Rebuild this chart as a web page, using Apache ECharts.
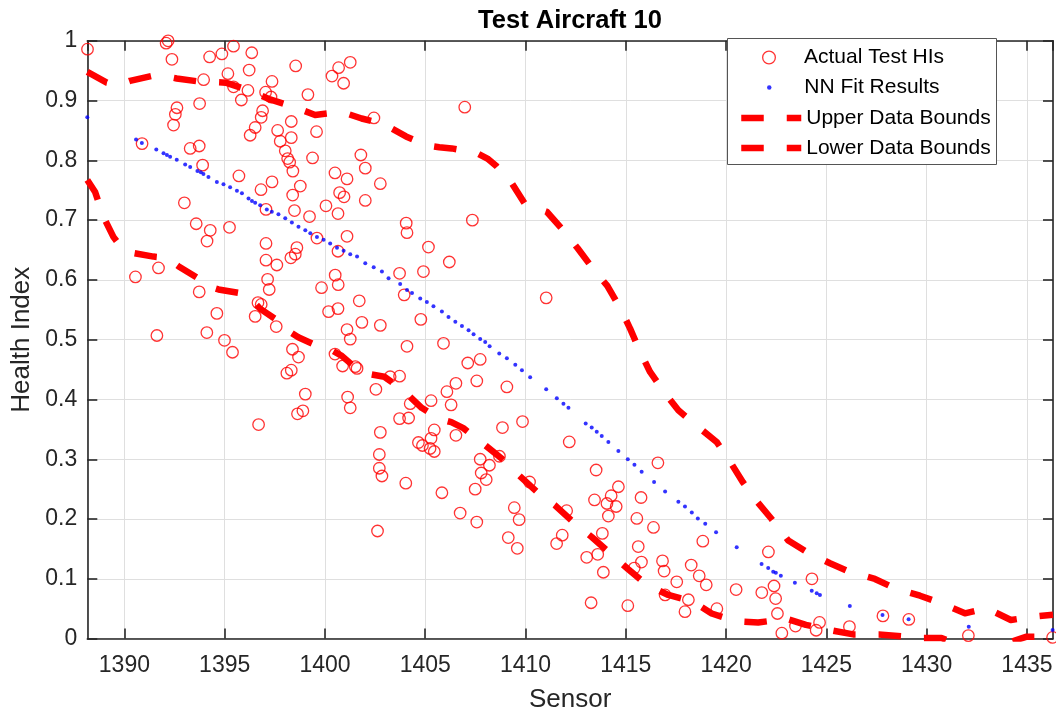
<!DOCTYPE html>
<html><head><meta charset="utf-8">
<script src="https://cdn.jsdelivr.net/npm/echarts@6/dist/echarts.min.js"></script>
<style>html,body{margin:0;padding:0;background:#fff}#chart{width:1056px;height:713px}</style>
</head><body><div id="chart"></div>
<script>
// ---- data: [sensor, health index] ----
const actualTestHIs = [
[1388.16,0.986],[1392.08,0.996],[1392.18,1.000],[1392.37,0.969],[1394.25,0.973],[1394.86,0.978],[1395.44,0.991],[1396.35,0.980],
[1398.54,0.958],[1395.16,0.945],[1396.22,0.951],[1393.95,0.935],[1395.44,0.923],[1396.16,0.917],[1395.83,0.901],[1397.36,0.932],
[1397.04,0.914],[1397.31,0.906],[1399.15,0.910],[1400.68,0.955],[1400.35,0.941],[1401.26,0.964],[1400.93,0.929],[1393.75,0.895],
[1392.62,0.888],[1392.54,0.877],[1392.45,0.859],[1396.89,0.883],[1396.82,0.872],[1396.52,0.855],[1396.27,0.842],[1397.64,0.850],
[1397.77,0.832],[1398.32,0.865],[1398.32,0.838],[1399.58,0.848],[1402.44,0.871],[1390.88,0.828],[1393.28,0.820],[1393.73,0.824],
[1398.02,0.816],[1398.14,0.803],[1398.24,0.797],[1398.40,0.782],[1399.38,0.804],[1393.90,0.792],[1401.79,0.809],[1402.01,0.787],
[1402.76,0.761],[1400.50,0.779],[1401.10,0.769],[1395.71,0.774],[1397.36,0.764],[1396.81,0.751],[1398.77,0.757],[1398.39,0.742],
[1400.73,0.746],[1400.95,0.739],[1402.01,0.733],[1392.99,0.729],[1397.06,0.718],[1398.48,0.716],[1400.05,0.724],[1400.65,0.711],
[1399.23,0.706],[1404.05,0.695],[1404.09,0.679],[1393.58,0.694],[1394.28,0.683],[1394.12,0.665],[1395.24,0.688],[1397.06,0.661],
[1399.60,0.670],[1401.10,0.673],[1400.65,0.648],[1398.60,0.654],[1398.52,0.643],[1398.30,0.637],[1397.06,0.633],[1397.60,0.625],
[1391.70,0.620],[1390.55,0.605],[1397.14,0.601],[1400.51,0.608],[1403.72,0.611],[1407.35,0.700],[1406.97,0.889],[1405.16,0.655],
[1406.20,0.630],[1404.91,0.614],[1393.73,0.580],[1394.61,0.544],[1394.11,0.512],[1394.99,0.499],[1395.39,0.479],[1391.62,0.507],
[1397.22,0.584],[1396.66,0.562],[1396.82,0.559],[1396.52,0.539],[1397.57,0.522],[1399.83,0.587],[1400.66,0.592],[1400.18,0.547],
[1400.65,0.552],[1401.71,0.565],[1401.84,0.529],[1402.76,0.524],[1401.10,0.517],[1401.26,0.501],[1403.95,0.575],[1404.09,0.489],
[1398.38,0.484],[1398.68,0.471],[1398.10,0.444],[1398.32,0.449],[1399.02,0.409],[1398.63,0.376],[1398.90,0.381],[1396.69,0.358],
[1400.50,0.476],[1400.88,0.456],[1401.51,0.455],[1401.60,0.452],[1403.25,0.438],[1403.72,0.439],[1402.54,0.417],[1401.13,0.404],
[1401.26,0.386],[1404.25,0.393],[1404.17,0.369],[1403.72,0.368],[1402.76,0.345],[1402.71,0.308],[1402.71,0.285],[1402.84,0.272],
[1404.03,0.260],[1402.62,0.180],[1411.03,0.570],[1404.78,0.534],[1405.91,0.494],[1407.12,0.461],[1407.74,0.467],[1407.57,0.431],
[1409.07,0.421],[1406.53,0.427],[1406.08,0.413],[1405.29,0.398],[1406.29,0.391],[1409.85,0.363],[1408.85,0.353],[1405.45,0.349],
[1405.29,0.335],[1404.66,0.328],[1404.86,0.323],[1405.24,0.318],[1405.45,0.313],[1406.53,0.340],[1412.18,0.329],[1407.74,0.300],
[1408.20,0.290],[1408.70,0.305],[1407.79,0.277],[1408.04,0.266],[1416.60,0.294],[1413.52,0.282],[1405.83,0.244],[1407.49,0.250],
[1410.20,0.262],[1414.63,0.254],[1414.27,0.239],[1414.06,0.226],[1414.52,0.221],[1413.44,0.232],[1415.76,0.236],[1409.44,0.219],
[1412.05,0.214],[1406.74,0.210],[1409.68,0.199],[1407.57,0.195],[1414.13,0.205],[1415.55,0.201],[1409.14,0.169],[1409.59,0.151],
[1411.83,0.173],[1411.55,0.159],[1413.83,0.176],[1413.05,0.136],[1413.60,0.141],[1413.88,0.111],[1413.27,0.060],[1415.10,0.055],
[1416.38,0.186],[1415.62,0.154],[1415.42,0.118],[1415.78,0.128],[1416.83,0.130],[1416.91,0.113],[1417.54,0.095],[1416.96,0.073],
[1418.26,0.123],[1418.66,0.105],[1419.01,0.090],[1418.12,0.065],[1417.95,0.045],[1418.84,0.163],[1419.54,0.050],[1420.50,0.082],
[1422.11,0.145],[1421.78,0.077],[1422.39,0.088],[1422.47,0.067],[1422.56,0.042],[1422.78,0.009],[1423.46,0.021],[1424.28,0.100],
[1424.66,0.027],[1424.49,0.014],[1426.15,0.020],[1427.82,0.038],[1429.11,0.032],[1432.08,0.005],[1436.28,0.002]
];

const nnFitResults = [
[1388.15,0.872],[1390.58,0.835],[1390.87,0.829],[1391.59,0.818],[1391.95,0.812],[1392.12,0.809],[1392.28,0.806],[1392.61,0.801],
[1393.03,0.793],[1393.28,0.789],[1393.64,0.782],[1393.81,0.780],[1393.94,0.777],[1394.19,0.772],[1394.61,0.764],[1394.94,0.760],
[1395.27,0.755],[1395.61,0.749],[1395.86,0.745],[1396.19,0.736],[1396.36,0.732],[1396.52,0.729],[1396.77,0.725],[1397.10,0.718],
[1397.35,0.714],[1397.68,0.710],[1398.02,0.703],[1398.35,0.696],[1398.68,0.689],[1399.02,0.683],[1399.27,0.678],[1399.60,0.672],
[1399.93,0.667],[1400.26,0.661],[1400.60,0.654],[1400.93,0.649],[1401.26,0.643],[1401.60,0.639],[1402.01,0.628],[1402.43,0.621],
[1402.84,0.614],[1403.17,0.603],[1403.75,0.593],[1404.09,0.583],[1404.34,0.578],[1404.75,0.569],[1405.08,0.563],[1405.41,0.556],
[1405.83,0.547],[1406.16,0.538],[1406.50,0.530],[1406.83,0.523],[1407.16,0.516],[1407.41,0.509],[1407.74,0.501],[1407.99,0.496],
[1408.21,0.489],[1408.69,0.477],[1409.07,0.469],[1409.49,0.458],[1409.82,0.449],[1410.23,0.437],[1411.03,0.417],[1411.56,0.402],
[1411.89,0.393],[1412.14,0.386],[1413.00,0.360],[1413.30,0.353],[1413.55,0.346],[1413.80,0.339],[1414.13,0.329],[1414.63,0.314],
[1415.10,0.300],[1415.43,0.291],[1415.79,0.279],[1416.41,0.262],[1416.96,0.246],[1417.62,0.229],[1417.95,0.221],[1418.29,0.211],
[1418.59,0.201],[1418.96,0.192],[1419.50,0.178],[1420.53,0.153],[1421.77,0.125],[1422.10,0.118],[1422.35,0.112],[1422.48,0.110],
[1422.73,0.105],[1423.43,0.0935],[1424.27,0.080],[1424.52,0.0757],[1424.68,0.0729],[1426.17,0.0545],[1427.80,0.0395],[1429.10,0.0323],
[1432.10,0.0199],[1436.28,0.0144]
];

const upperDataBounds = [
[1388.15,0.948],[1389.12,0.930],[1389.7,0.926],[1390.28,0.933],[1391.33,0.941],[1392.0,0.941],[1392.61,0.937],[1393.69,0.932],
[1395.05,0.930],[1396.05,0.919],[1397.26,0.902],[1398.31,0.891],[1399.51,0.876],[1400.54,0.880],[1401.2,0.877],[1401.83,0.870],
[1402.91,0.861],[1404.04,0.840],[1405.1,0.825],[1405.7,0.822],[1406.32,0.820],[1407.53,0.813],[1408.1,0.803],[1408.56,0.790],
[1409.31,0.762],[1409.97,0.727],[1411.06,0.714],[1411.88,0.683],[1412.6,0.653],[1413.38,0.618],[1414.08,0.590],[1414.75,0.551],
[1415.21,0.519],[1415.71,0.480],[1416.21,0.446],[1416.96,0.410],[1417.62,0.382],[1418.61,0.354],[1419.53,0.329],[1420.2,0.296],
[1420.83,0.262],[1421.55,0.229],[1422.27,0.200],[1423.1,0.164],[1424.02,0.145],[1425.18,0.126],[1426.14,0.112],[1427.42,0.0997],
[1428.42,0.0841],[1429.67,0.0717],[1430.66,0.0600],[1431.91,0.0423],[1433.0,0.0507],[1434.2,0.0311],[1435.3,0.0366],[1436.3,0.040]
];

const lowerDataBounds = [
[1388.15,0.767],[1388.54,0.747],[1388.95,0.706],[1389.45,0.672],[1389.95,0.650],[1390.45,0.645],[1391.45,0.639],[1392.1,0.637],
[1392.69,0.623],[1393.61,0.604],[1394.1,0.590],[1394.69,0.584],[1395.77,0.578],[1396.2,0.572],[1396.76,0.552],[1397.73,0.530],
[1398.2,0.514],[1398.67,0.504],[1399.72,0.488],[1400.3,0.483],[1400.84,0.473],[1401.66,0.449],[1402.3,0.442],[1402.96,0.438],
[1403.88,0.416],[1404.82,0.386],[1405.74,0.367],[1406.3,0.362],[1406.9,0.352],[1407.82,0.328],[1408.89,0.299],[1409.64,0.274],
[1410.56,0.246],[1411.47,0.223],[1412.38,0.195],[1413.3,0.170],[1414.21,0.143],[1415.12,0.116],[1416.04,0.090],[1417.12,0.073],
[1418.33,0.062],[1419.28,0.042],[1420.49,0.029],[1421.6,0.027],[1422.3,0.030],[1422.94,0.034],[1423.98,0.023],[1425.23,0.014],
[1426.34,0.007],[1427.62,0.007],[1428.75,0.004],[1429.63,0.001],[1430.74,0.001],[1431.6,-0.010],[1432.8,-0.016],[1434.0,-0.008],
[1434.95,0.003],[1435.81,0.003],[1436.3,0.002]
];

const seriesNames = ['Actual Test HIs', 'NN Fit Results', 'Upper Data Bounds', 'Lower Data Bounds'];
const chartTitle = 'Test Aircraft 10';
const xName = 'Sensor';
const yName = 'Health Index';
const xRange = [1388.15, 1436.3];
const yRange = [0, 1];

// ---- presentation ----
const FONT = "'Liberation Sans', Arial, Helvetica, sans-serif";
const AX = '#262626';
const GRID = '#dfdfdf';
const RED = '#ff0000';
const BLUE = '#0000ff';
const DASH = [22.5, 23];
const BOUND_W = 6.5;

const chart = echarts.init(document.getElementById('chart'), null, {renderer: 'canvas'});

const lineAxis = {show: true, onZero: false, lineStyle: {color: AX, width: 1.6}};
const tickIn = {show: true, inside: true, length: 10, lineStyle: {color: AX, width: 1.6}};

const xBase = {type: 'value', min: xRange[0], max: xRange[1], minInterval: 5, maxInterval: 5, splitNumber: 10};
const yBase = {type: 'value', min: yRange[0], max: yRange[1], interval: 0.1};

chart.setOption({
  animation: false,
  backgroundColor: '#ffffff',
  title: {
    text: chartTitle, left: 570, top: 8, textAlign: 'center', padding: 0,
    textStyle: {fontFamily: FONT, fontSize: 25.5, fontWeight: 'bold', color: '#000'}
  },
  grid: {left: 87.3, right: 3, top: 40.8, bottom: 74.4, containLabel: false, outerBoundsMode: 'none'},
  xAxis: [
    Object.assign({}, xBase, {
      position: 'bottom',
      axisLine: lineAxis, axisTick: tickIn,
      axisLabel: {show: true, margin: 16, fontSize: 23, color: AX, fontFamily: FONT, showMinLabel: false, showMaxLabel: false,
                  formatter: function (v) { return String(Math.round(v)); }},
      splitLine: {show: true, lineStyle: {color: GRID, width: 1}},
      name: xName, nameLocation: 'middle', nameGap: 48,
      nameTextStyle: {fontSize: 26, color: AX, fontFamily: FONT}
    }),
    Object.assign({}, xBase, {
      position: 'top',
      axisLine: lineAxis, axisTick: tickIn,
      axisLabel: {show: false}, splitLine: {show: false}
    })
  ],
  yAxis: [
    Object.assign({}, yBase, {
      position: 'left',
      axisLine: lineAxis, axisTick: tickIn,
      axisLabel: {show: true, margin: 10, fontSize: 23, color: AX, fontFamily: FONT},
      splitLine: {show: true, lineStyle: {color: GRID, width: 1}},
      name: yName, nameLocation: 'middle', nameGap: 40,
      nameTextStyle: {fontSize: 26, color: AX, fontFamily: FONT}
    }),
    Object.assign({}, yBase, {
      position: 'right',
      axisLine: lineAxis, axisTick: tickIn,
      axisLabel: {show: false}, splitLine: {show: false}
    })
  ],
  legend: [
    {
      data: [seriesNames[0]], orient: 'vertical', left: 762, top: 47, padding: 0, itemGap: 0,
      itemWidth: 60, itemHeight: 12.7, z: 10, selectedMode: false,
      itemStyle: {color: 'transparent', borderColor: RED, borderWidth: 1.3},
      textStyle: {fontFamily: FONT, fontSize: 21, color: '#000'}
    },
    {
      data: [seriesNames[1]], orient: 'vertical', left: 767, top: 77, padding: 0, itemGap: 0,
      itemWidth: 60, itemHeight: 4.5, z: 10, selectedMode: false,
      itemStyle: {color: BLUE, borderWidth: 0},
      textStyle: {fontFamily: FONT, fontSize: 21, color: '#000'}
    },
    {
      data: [seriesNames[2], seriesNames[3]], orient: 'vertical', left: 738, top: 107.5, padding: 0, itemGap: 9,
      itemWidth: 60, itemHeight: 12, z: 10, selectedMode: false,
      itemStyle: {opacity: 0},
      lineStyle: {width: BOUND_W, color: RED, type: DASH, cap: 'butt'},
      textStyle: {fontFamily: FONT, fontSize: 21, color: '#000'}
    }
  ],
  graphic: [{
    type: 'rect', z: 9, silent: true,
    shape: {x: 727.5, y: 38.5, width: 269, height: 126},
    style: {fill: '#ffffff', stroke: '#555555', lineWidth: 1}
  }],
  series: [
    {
      name: seriesNames[0], type: 'scatter', xAxisIndex: 0, yAxisIndex: 0,
      data: actualTestHIs, symbol: 'circle', symbolSize: 11.5, z: 2, silent: true,
      itemStyle: {color: 'transparent', borderColor: RED, borderWidth: 1.3}
    },
    {
      name: seriesNames[1], type: 'scatter', xAxisIndex: 0, yAxisIndex: 0,
      data: nnFitResults, symbol: 'circle', symbolSize: 4, z: 3, silent: true,
      itemStyle: {color: BLUE, borderWidth: 0}
    },
    {
      name: seriesNames[2], type: 'line', xAxisIndex: 0, yAxisIndex: 0,
      data: upperDataBounds, symbol: 'none', showSymbol: false, z: 4, silent: true, clip: true,
      lineStyle: {color: RED, width: BOUND_W, type: DASH, cap: 'butt', join: 'round'},
      itemStyle: {color: RED, opacity: 0}
    },
    {
      name: seriesNames[3], type: 'line', xAxisIndex: 0, yAxisIndex: 0,
      data: lowerDataBounds, symbol: 'none', showSymbol: false, z: 4, silent: true, clip: true,
      lineStyle: {color: RED, width: BOUND_W, type: DASH, cap: 'butt', join: 'round'},
      itemStyle: {color: RED, opacity: 0}
    }
  ]
});
</script>
</body></html>
